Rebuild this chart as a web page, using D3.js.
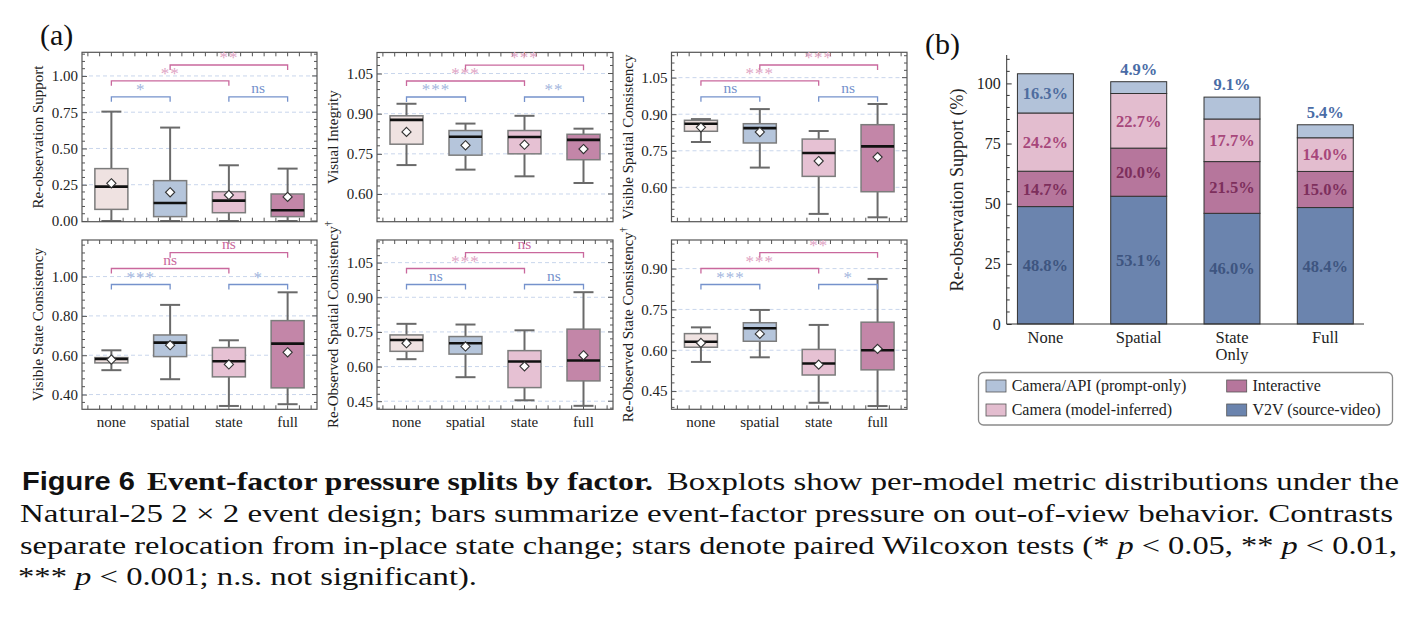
<!DOCTYPE html>
<html><head><meta charset="utf-8">
<script src="https://cdn.jsdelivr.net/npm/d3@7"></script>
<style>body{margin:0;background:#fff}svg{display:block}</style>
</head><body>
<script>
// ---------------- DATA ----------------
const categories = ["none", "spatial", "state", "full"];
// each row: [whiskerLow, q1, median, q3, whiskerHigh, mean]
const reobservationSupport = [[0.00,0.080,0.237,0.361,0.754,0.260],[0.00,0.030,0.124,0.278,0.644,0.198],[0.00,0.057,0.140,0.202,0.384,0.179],[0.00,0.030,0.074,0.186,0.361,0.166]];
const visualIntegrity      = [[0.708,0.786,0.877,0.892,0.937,0.832],[0.691,0.745,0.814,0.837,0.863,0.782],[0.666,0.750,0.813,0.837,0.892,0.784],[0.641,0.728,0.802,0.823,0.844,0.768]];
const visibleSpatial       = [[0.786,0.830,0.861,0.875,0.880,0.846],[0.681,0.782,0.843,0.861,0.921,0.827],[0.491,0.645,0.741,0.798,0.831,0.708],[0.477,0.582,0.768,0.857,0.942,0.724]];
const visibleState         = [[0.524,0.561,0.581,0.588,0.625,0.578],[0.478,0.593,0.664,0.703,0.856,0.651],[0.342,0.490,0.569,0.639,0.676,0.553],[0.351,0.434,0.659,0.776,0.920,0.615]];
const reobservedSpatial    = [[0.632,0.666,0.715,0.737,0.785,0.701],[0.554,0.654,0.701,0.730,0.782,0.687],[0.454,0.509,0.622,0.669,0.757,0.601],[0.430,0.538,0.626,0.762,0.922,0.649]];
const reobservedState      = [[0.557,0.611,0.631,0.661,0.684,0.627],[0.574,0.633,0.681,0.701,0.748,0.660],[0.407,0.509,0.551,0.603,0.693,0.547],[0.395,0.528,0.600,0.703,0.862,0.605]];

// significance: [none-spatial, state-full, none-state, spatial-full]
const sigSupport   = ["*", "ns", "**", "**"];
const sigIntegrity = ["***", "**", "***", "***"];
const sigVisSpat   = ["ns", "ns", "***", "***"];
const sigVisState  = ["***", "*", "ns", "ns"];
const sigReoSpat   = ["ns", "ns", "***", "ns"];
const sigReoState  = ["***", "*", "***", "**"];

const ticksSupport = [0, 0.25, 0.5, 0.75, 1.0];
const ticks060     = [0.60, 0.75, 0.90, 1.05];
const ticksState   = [0.40, 0.60, 0.80, 1.00];
const ticks045     = [0.45, 0.60, 0.75, 0.90, 1.05];
const ticks045b    = [0.45, 0.60, 0.75, 0.90];

// bar chart (b)
const barCategories   = ["None", "Spatial", "State Only", "Full"];
const v2vSource       = [48.8, 53.1, 46.0, 48.4];
const interactive     = [14.7, 20.0, 21.5, 15.0];
const cameraInferred  = [24.2, 22.7, 17.7, 14.0];
const cameraPrompt    = [16.3, 4.9, 9.1, 5.4];
const barTicks        = [0, 25, 50, 75, 100];
const legendLabels    = ["Camera/API (prompt-only)", "Interactive", "Camera (model-inferred)", "V2V (source-video)"];

// ---------------- STYLE ----------------
const boxFill = ["#efe2e1", "#b5c5db", "#e6c1d3", "#c386a8"];
const blue = "#7592cc", pink = "#c9689d", blueStar = "#a3b6de", pinkStar = "#e0a3c4";
const serif = "'Liberation Serif','Times New Roman',serif";

const svg = d3.select("body").append("svg").attr("width", 1417).attr("height", 622)
  .style("font-family", serif);

const panels = [
  {data: reobservationSupport, title: "Re-observation Support", dagger: false, domain: [-0.005, 1.163], ticks: ticksSupport, minor: 0.05, sig: sigSupport, box: [82, 317, 52.3, 221.7], labelX: 38, xlab: false},
  {data: visualIntegrity, title: "Visual Integrity", dagger: false, domain: [0.4965, 1.1285], ticks: ticks060, minor: 0.03, sig: sigIntegrity, box: [377, 613, 52.5, 221.7], labelX: 333, xlab: false},
  {data: visibleSpatial, title: "Visible Spatial Consistency", dagger: false, domain: [0.459, 1.154], ticks: ticks060, minor: 0.03, sig: sigVisSpat, box: [671.5, 907, 52.3, 221.7], labelX: 628, xlab: false},
  {data: visibleState, title: "Visible State Consistency", dagger: false, domain: [0.325, 1.186], ticks: ticksState, minor: 0.04, sig: sigVisState, box: [82, 317, 240, 409.3], labelX: 38, xlab: true},
  {data: reobservedSpatial, title: "Re-Observed Spatial Consistency", dagger: true, domain: [0.415, 1.148], ticks: ticks045, minor: 0.03, sig: sigReoSpat, box: [377, 613, 240, 409.3], labelX: 333, xlab: true},
  {data: reobservedState, title: "Re-Observed State Consistency", dagger: true, domain: [0.383, 1.005], ticks: ticks045b, minor: 0.03, sig: sigReoState, box: [671.5, 907, 240, 409.3], labelX: 628, xlab: true}
];

panels.forEach(drawPanel);

function drawPanel(p) {
  const [x0, x1, y0, y1] = p.box;
  const x = d3.scalePoint().domain(categories).range([x0, x1]).padding(0.5);
  const y = d3.scaleLinear().domain(p.domain).range([y1, y0]);
  const g = svg.append("g");

  // grid
  g.selectAll(null).data(p.ticks.filter(t => y(t) > y0 + 1 && y(t) < y1 - 1)).join("line")
    .attr("x1", x0).attr("x2", x1).attr("y1", d => y(d)).attr("y2", d => y(d))
    .attr("stroke", "#c9d6ec").attr("stroke-width", 1).attr("stroke-dasharray", "4,3");

  // minor ticks
  const minors = d3.range(Math.ceil(p.domain[0] / p.minor) * p.minor, p.domain[1], p.minor)
    .filter(v => !p.ticks.some(t => Math.abs(t - v) < 1e-6));
  const tickG = g.append("g").attr("stroke", "#555").attr("stroke-width", 1);
  minors.forEach(v => {
    tickG.append("line").attr("x1", x0).attr("x2", x0 + 3).attr("y1", y(v)).attr("y2", y(v));
    tickG.append("line").attr("x1", x1).attr("x2", x1 - 3).attr("y1", y(v)).attr("y2", y(v));
  });
  p.ticks.forEach(v => {
    tickG.append("line").attr("x1", x1).attr("x2", x1 - 5).attr("y1", y(v)).attr("y2", y(v));
  });
  const step = x.step() / 5;
  const xt = d3.range(-12, 40).map(k => x(categories[0]) + k * step).filter(v => v > x0 + 2 && v < x1 - 2);
  xt.forEach(v => {
    tickG.append("line").attr("x1", v).attr("x2", v).attr("y1", y1).attr("y2", y1 - 4);
    tickG.append("line").attr("x1", v).attr("x2", v).attr("y1", y0).attr("y2", y0 + 4);
  });

  // left axis
  const ax = g.append("g").attr("transform", `translate(${x0},0)`)
    .call(d3.axisLeft(y).tickValues(p.ticks).tickSize(-5).tickPadding(4).tickFormat(d3.format(".2f")));
  ax.select(".domain").remove();
  ax.selectAll(".tick line").attr("stroke", "#555");
  ax.selectAll("text").style("font-family", serif).style("font-size", "15px").attr("fill", "#222");

  // boxes
  const bw = 33, cw = 20;
  categories.forEach((c, i) => {
    const [lo, q1, med, q3, hi, mean] = p.data[i];
    const cx = x(c);
    g.append("line").attr("x1", cx).attr("x2", cx).attr("y1", y(lo)).attr("y2", y(hi)).attr("stroke", "#6a6a6a").attr("stroke-width", 2);
    [lo, hi].forEach(v => g.append("line").attr("x1", cx - cw / 2).attr("x2", cx + cw / 2).attr("y1", y(v)).attr("y2", y(v)).attr("stroke", "#6a6a6a").attr("stroke-width", 2));
    g.append("rect").attr("x", cx - bw / 2).attr("y", y(q3)).attr("width", bw).attr("height", y(q1) - y(q3))
      .attr("fill", boxFill[i]).attr("stroke", "#7c7c7c").attr("stroke-width", 1.5);
    g.append("line").attr("x1", cx - bw / 2).attr("x2", cx + bw / 2).attr("y1", y(med)).attr("y2", y(med)).attr("stroke", "#111").attr("stroke-width", 2.6);
    const r = 4.6, my = y(mean);
    g.append("path").attr("d", `M${cx},${my - r}L${cx + r},${my}L${cx},${my + r}L${cx - r},${my}Z`)
      .attr("fill", "#fff").attr("stroke", "#333").attr("stroke-width", 1.1);
  });

  // frame
  g.append("rect").attr("x", x0).attr("y", y0).attr("width", x1 - x0).attr("height", y1 - y0)
    .attr("fill", "none").attr("stroke", "#555").attr("stroke-width", 1.2);

  // significance brackets
  const levels = [y0 + 44.5, y0 + 28.5, y0 + 12.7];
  const pairs = [[0, 1, "b", levels[0]], [2, 3, "b", levels[0]], [0, 2, "p", levels[1]], [1, 3, "p", levels[2]]];
  pairs.forEach(([a, b, col, ly], k) => {
    const xa = x(categories[a]), xb = x(categories[b]);
    g.append("path").attr("d", `M${xa},${ly + 5}V${ly}H${xb}V${ly + 5}`)
      .attr("fill", "none").attr("stroke", col === "b" ? blue : pink).attr("stroke-width", 1.3);
    const lab = p.sig[k];
    const isStar = lab.includes("*");
    g.append("text").attr("x", (xa + xb) / 2).attr("y", isStar ? ly - 2 : ly - 4)
      .attr("text-anchor", "middle").style("font-size", isStar ? "17px" : "15.5px")
      .attr("letter-spacing", isStar ? "1px" : "0")
      .attr("fill", isStar ? (col === "b" ? blueStar : pinkStar) : (col === "b" ? blue : pink))
      .text(lab);
  });

  // y label
  const yl = g.append("text").attr("transform", `translate(${p.labelX},${(y0 + y1) / 2}) rotate(-90)`)
    .attr("text-anchor", "middle").attr("dy", "0.35em").style("font-size", "15px").attr("fill", "#222").text(p.title);
  if (p.dagger) yl.append("tspan").attr("dy", "-0.6em").style("font-size", "10px").text("†");

  // x labels
  if (p.xlab) {
    g.selectAll(null).data(categories).join("text").attr("x", d => x(d)).attr("y", y1 + 18)
      .attr("text-anchor", "middle").style("font-size", "15px").attr("fill", "#222").text(d => d);
  }
}

// panel letters
svg.append("text").attr("x", 40).attr("y", 45).style("font-size", "30px").attr("fill", "#111").text("(a)");
svg.append("text").attr("x", 925).attr("y", 54).style("font-size", "30px").attr("fill", "#111").text("(b)");

// ---------------- BAR CHART ----------------
(function () {
  const bx0 = 1006.7, bx1 = 1364, by0 = 324, byTop = 55;
  const x = d3.scaleBand().domain(barCategories).range([bx0, bx1]).paddingInner(0.4).paddingOuter(0.115);
  const y = d3.scaleLinear().domain([0, 111.8]).range([by0, byTop]);
  const g = svg.append("g");
  const series = [
    {vals: v2vSource, fill: "#6b84ae", text: "#3e5580"},
    {vals: interactive, fill: "#b6769c", text: "#7d2f5c"},
    {vals: cameraInferred, fill: "#e3bdcf", text: "#a7477b"},
    {vals: cameraPrompt, fill: "#b2c2d9", text: "#4f6d9f"}
  ];
  barCategories.forEach((c, i) => {
    let acc = 0;
    series.forEach((s, k) => {
      const v = s.vals[i];
      const yTop = y(acc + v), yBot = y(acc);
      g.append("rect").attr("x", x(c)).attr("y", yTop).attr("width", x.bandwidth()).attr("height", yBot - yTop)
        .attr("fill", s.fill).attr("stroke", "#333").attr("stroke-width", 1);
      const inside = v >= 10;
      g.append("text").attr("x", x(c) + x.bandwidth() / 2)
        .attr("y", inside ? (yTop + yBot) / 2 : yTop - 7).attr("dy", inside ? "0.35em" : "0")
        .attr("text-anchor", "middle").style("font-size", "16.5px").style("font-weight", "bold")
        .attr("fill", inside ? s.text : "#4a6ca6").text(v.toFixed(1) + "%");
      acc += v;
    });
  });
  // axes
  g.append("line").attr("x1", bx0).attr("x2", bx0).attr("y1", by0).attr("y2", byTop).attr("stroke", "#333").attr("stroke-width", 1);
  g.append("line").attr("x1", bx0).attr("x2", bx1).attr("y1", by0).attr("y2", by0).attr("stroke", "#333").attr("stroke-width", 1);
  d3.range(5, 111, 5).filter(v => v % 25 !== 0).forEach(v =>
    g.append("line").attr("x1", bx0).attr("x2", bx0 + 3).attr("y1", y(v)).attr("y2", y(v)).attr("stroke", "#333"));
  const ay = g.append("g").attr("transform", `translate(${bx0},0)`)
    .call(d3.axisLeft(y).tickValues(barTicks).tickSize(-5).tickPadding(6));
  ay.select(".domain").remove();
  ay.selectAll(".tick line").attr("stroke", "#333");
  ay.selectAll("text").style("font-family", serif).style("font-size", "16px").attr("fill", "#222");
  // x labels
  barCategories.forEach(c => {
    const words = c.split(" ");
    const t = g.append("text").attr("x", x(c) + x.bandwidth() / 2).attr("y", 343).attr("text-anchor", "middle")
      .style("font-size", "16.5px").attr("fill", "#222");
    words.forEach((w, k) => t.append("tspan").attr("x", x(c) + x.bandwidth() / 2).attr("dy", k ? "1.02em" : 0).text(w));
  });
  // y title
  g.append("text").attr("transform", `translate(957,190) rotate(-90)`).attr("text-anchor", "middle").attr("dy", "0.35em")
    .style("font-size", "18px").attr("fill", "#222").text("Re-observation Support (%)");

  // legend
  g.append("rect").attr("x", 978.5).attr("y", 372.5).attr("width", 414).attr("height", 52.5).attr("rx", 5)
    .attr("fill", "#fff").attr("stroke", "#8a8a8a").attr("stroke-width", 1.3);
  const legFill = ["#b2c2d9", "#b6769c", "#e3bdcf", "#6b84ae"];
  const legPos = [[986, 380], [1226.7, 380], [986, 404], [1226.7, 404]];
  legendLabels.forEach((l, i) => {
    const [lx, ly] = legPos[i];
    g.append("rect").attr("x", lx).attr("y", ly).attr("width", 20).attr("height", 12)
      .attr("fill", legFill[i]).attr("stroke", "#555").attr("stroke-width", 0.8);
    g.append("text").attr("x", lx + 25.7).attr("y", ly + 11).style("font-size", "16px").attr("fill", "#222").text(l);
  });
})();

// ---------------- CAPTION ----------------
(function () {
  const cs = 26;
  svg.append("text").attr("x", 22).attr("y", 490).attr("textLength", 113).attr("lengthAdjust", "spacingAndGlyphs")
    .style("font-family", "'Liberation Sans',Arial,sans-serif").style("font-weight", "bold").style("font-size", cs + "px")
    .attr("fill", "#111").text("Figure 6");
  svg.append("text").attr("x", 147).attr("y", 490).attr("textLength", 506).attr("lengthAdjust", "spacingAndGlyphs")
    .style("font-weight", "bold").style("font-size", cs + "px").attr("fill", "#111").text("Event-factor pressure splits by factor.");
  svg.append("text").attr("x", 667).attr("y", 490).attr("textLength", 732).attr("lengthAdjust", "spacingAndGlyphs")
    .style("font-size", cs + "px").attr("fill", "#111").text("Boxplots show per-model metric distributions under the");
  svg.append("text").attr("x", 20).attr("y", 522).attr("textLength", 1373).attr("lengthAdjust", "spacingAndGlyphs")
    .style("font-size", cs + "px").attr("fill", "#111")
    .text("Natural-25 2 \u00d7 2 event design; bars summarize event-factor pressure on out-of-view behavior. Contrasts");
  const l3 = svg.append("text").attr("x", 20).attr("y", 554).attr("textLength", 1377).attr("lengthAdjust", "spacingAndGlyphs")
    .style("font-size", cs + "px").attr("fill", "#111");
  l3.append("tspan").text("separate relocation from in-place state change; stars denote paired Wilcoxon tests (* ");
  l3.append("tspan").style("font-style", "italic").text("p");
  l3.append("tspan").text(" < 0.05, ** ");
  l3.append("tspan").style("font-style", "italic").text("p");
  l3.append("tspan").text(" < 0.01,");
  const l4 = svg.append("text").attr("x", 18).attr("y", 585).attr("textLength", 459).attr("lengthAdjust", "spacingAndGlyphs")
    .style("font-size", cs + "px").attr("fill", "#111");
  l4.append("tspan").text("*** ");
  l4.append("tspan").style("font-style", "italic").text("p");
  l4.append("tspan").text(" < 0.001; n.s. not significant).");
})();
</script>
</body></html>
